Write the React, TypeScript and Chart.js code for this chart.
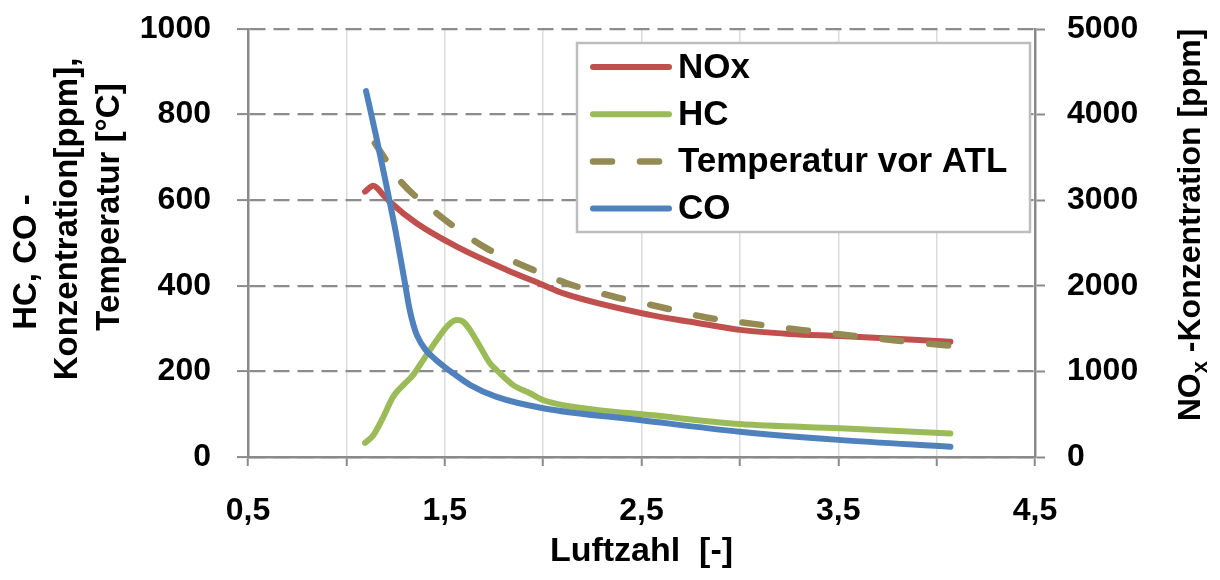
import { useEffect, useRef } from 'react';
import { Chart, registerables } from 'chart.js';

Chart.register(...registerables);

const FONT = "'Liberation Sans', Arial, Helvetica, sans-serif";

// x tick labels (every second tick of 0.5 steps)
const xTickValues = [0.5, 1.5, 2.5, 3.5, 4.5];
const xTickLabels = ['0,5', '1,5', '2,5', '3,5', '4,5'];

// NOx [ppm] (right axis)
const noxX = [1.095, 1.137, 1.188, 1.222, 1.357, 1.561, 1.815, 2.0, 2.103, 2.543, 2.75, 3.0, 3.255, 3.51, 4.07];
const noxY = [3100, 3170, 3060, 2980, 2730, 2457, 2185, 2010, 1912, 1660, 1580, 1485, 1437, 1413, 1347];

// HC [ppm] (left axis)
const hcX = [1.095, 1.137, 1.188, 1.238, 1.289, 1.34, 1.391, 1.459, 1.518, 1.561, 1.594, 1.628, 1.679, 1.73, 1.764, 1.848, 1.933, 2.0, 2.103, 2.272, 2.543, 3.0, 3.51, 4.07];
const hcY = [33, 51, 94, 141, 168, 192, 227, 273, 308, 320, 316, 297, 258, 219, 203, 168, 149, 133, 121, 110, 98, 77, 67, 55];

// Temperatur vor ATL [°C] (left axis)
const tempX = [1.145, 1.19, 1.27, 1.46, 1.7, 1.9, 2.12, 2.357, 2.59, 2.83, 3.07, 3.31, 3.54, 3.78, 4.07];
const tempY = [733, 702, 647, 569, 491, 447, 406, 375, 351, 326, 311, 297, 285, 273, 260];

// CO [ppm] (left axis)
const coX = [1.1, 1.15, 1.2, 1.25, 1.28, 1.3, 1.32, 1.34, 1.36, 1.4, 1.45, 1.5, 1.56, 1.63, 1.76, 2.0, 2.5, 3.0, 3.5, 4.07];
const coY = [855, 752, 642, 528, 452, 400, 348, 310, 283, 252, 229, 210, 190, 168, 141, 114, 86, 59, 40, 24];

const seriesLabels = ['NOx', 'HC', 'Temperatur vor ATL', 'CO'];
const leftTitleLines = ['HC, CO -', 'Konzentration[ppm],', 'Temperatur [°C]'];
const rightTitleParts = ['NO', 'x', ' -Konzentration [ppm]'];
const xTitle = 'Luftzahl  [-]';

const pts = (xs: number[], ys: number[]) => xs.map((x, i) => ({ x, y: ys[i] }));

const tickFont = { family: FONT, size: 32, weight: 'bold' as const };

const legendPlugin = {
  id: 'boxLegend',
  afterDatasetsDraw(chart: any) {
    const { ctx, chartArea: ca } = chart;
    const bx = ca.left + 329;
    const by = ca.top + 14;
    const bw = 453;
    const bh = 189;
    ctx.save();
    ctx.fillStyle = '#ffffff';
    ctx.fillRect(bx, by, bw, bh);
    ctx.strokeStyle = '#bdbdbd';
    ctx.lineWidth = 2.5;
    ctx.strokeRect(bx, by, bw, bh);
    [0, 1, 2, 3].forEach((di, i) => {
      const ds = chart.data.datasets[di];
      const y = by + 24 + i * 47.2;
      ctx.strokeStyle = ds.borderColor;
      ctx.lineWidth = ds.borderWidth;
      ctx.lineCap = 'round';
      ctx.setLineDash(ds.borderDash || []);
      ctx.beginPath();
      ctx.moveTo(bx + 16, y);
      ctx.lineTo(bx + 92, y);
      ctx.stroke();
      ctx.setLineDash([]);
      ctx.fillStyle = '#000';
      ctx.font = `bold 35px ${FONT}`;
      ctx.textBaseline = 'middle';
      ctx.textAlign = 'left';
      ctx.fillText(ds.label, bx + 101, y + 1);
    });
    ctx.restore();
  },
};

const titlesPlugin = {
  id: 'axisTitles',
  afterDraw(chart: any) {
    const { ctx, chartArea: ca, width } = chart;
    ctx.save();
    ctx.fillStyle = '#000';
    ctx.textBaseline = 'middle';
    // left multi-line title
    ctx.font = `bold 33px ${FONT}`;
    ctx.textAlign = 'center';
    const leftPos = [
      [27, ca.top + 233],
      [68, ca.top + 190],
      [110, ca.top + 178],
    ];
    leftTitleLines.forEach((line, i) => {
      ctx.save();
      ctx.translate(leftPos[i][0], leftPos[i][1]);
      ctx.rotate(-Math.PI / 2);
      ctx.fillText(line, 0, 0);
      ctx.restore();
    });
    // right title with subscript
    ctx.save();
    ctx.translate(width - 29, ca.top + 196);
    ctx.rotate(-Math.PI / 2);
    ctx.textAlign = 'left';
    const mainFont = `bold 32px ${FONT}`;
    const subFont = `bold 22px ${FONT}`;
    ctx.font = mainFont;
    const w0 = ctx.measureText(rightTitleParts[0]).width;
    const w2 = ctx.measureText(rightTitleParts[2]).width;
    ctx.font = subFont;
    const w1 = ctx.measureText(rightTitleParts[1]).width;
    let x = -(w0 + w1 + w2) / 2;
    ctx.font = mainFont;
    ctx.fillText(rightTitleParts[0], x, 0);
    x += w0;
    ctx.font = subFont;
    ctx.fillText(rightTitleParts[1], x, 10);
    x += w1;
    ctx.font = mainFont;
    ctx.fillText(rightTitleParts[2], x, 0);
    ctx.restore();
    ctx.restore();
  },
};

export default function App() {
  const ref = useRef<HTMLCanvasElement>(null);
  useEffect(() => {
    const canvas = ref.current!;
    const chart = new Chart(canvas, {
      type: 'line',
      data: {
        datasets: [
          {
            label: seriesLabels[0],
            data: pts(noxX, noxY),
            yAxisID: 'y1',
            borderColor: '#C0504D',
            borderWidth: 6,
            order: 3,
          },
          {
            label: seriesLabels[1],
            data: pts(hcX, hcY),
            yAxisID: 'y',
            borderColor: '#9BBB59',
            borderWidth: 6,
            order: 2,
          },
          {
            label: seriesLabels[2],
            data: pts(tempX, tempY),
            yAxisID: 'y',
            borderColor: '#948A54',
            borderWidth: 6.5,
            borderDash: [19, 28],
            order: 1,
          },
          {
            label: seriesLabels[3],
            data: pts(coX, coY),
            yAxisID: 'y',
            borderColor: '#4F81BD',
            borderWidth: 6,
            order: 0,
          },
        ] as any,
      },
      options: {
        responsive: false,
        animation: false,
        layout: { padding: { top: 29, left: 0, right: 0, bottom: 0 } },
        elements: {
          point: { radius: 0, hoverRadius: 0 },
          line: { cubicInterpolationMode: 'monotone', borderCapStyle: 'round', borderJoinStyle: 'round', fill: false },
        },
        plugins: { legend: { display: false }, tooltip: { enabled: false } },
        scales: {
          x: {
            type: 'linear',
            position: 'bottom',
            min: 0.5,
            max: 4.5,
            ticks: {
              stepSize: 0.5,
              autoSkip: false,
              maxRotation: 0,
              minRotation: 0,
              padding: 26,
              color: '#000',
              font: tickFont,
              callback: (v: any) => {
                const i = xTickValues.findIndex((t) => Math.abs(t - Number(v)) < 1e-6);
                return i >= 0 ? xTickLabels[i] : '';
              },
            },
            grid: {
              color: (c: any) => {
                const v = c.tick ? c.tick.value : 0;
                return Math.abs(v - 0.5) < 1e-6 || Math.abs(v - 4.5) < 1e-6 ? 'rgba(0,0,0,0)' : '#dcdcdc';
              },
              lineWidth: 1.5,
              tickColor: '#8a8a8a',
              tickWidth: 2,
              tickLength: 9,
            },
            border: { color: '#8a8a8a', width: 2.5 },
            title: {
              display: true,
              text: xTitle,
              color: '#000',
              font: { family: FONT, size: 34, weight: 'bold' },
              padding: { top: 0, bottom: 8 },
            },
            afterFit: (s: any) => {
              s.height = 123;
              s.paddingLeft = 0;
              s.paddingRight = 0;
            },
          },
          y: {
            type: 'linear',
            position: 'left',
            min: 0,
            max: 1000,
            ticks: {
              stepSize: 200,
              padding: 26,
              color: '#000',
              font: tickFont,
              callback: (v: any) => String(v),
            },
            grid: {
              color: '#8c8c8c',
              lineWidth: 2.2,
              tickColor: '#8a8a8a',
              tickWidth: 2,
              tickLength: 11,
            },
            border: { color: '#8a8a8a', width: 2.5, dash: [16, 8] },
            afterFit: (s: any) => {
              s.width = 248;
              s.paddingTop = 0;
              s.paddingBottom = 0;
            },
          },
          y1: {
            type: 'linear',
            position: 'right',
            min: 0,
            max: 5000,
            ticks: {
              stepSize: 1000,
              padding: 22,
              color: '#000',
              font: tickFont,
              callback: (v: any) => String(v),
            },
            grid: {
              drawOnChartArea: false,
              color: '#8a8a8a',
              tickColor: '#8a8a8a',
              tickWidth: 2,
              tickLength: 10,
            },
            border: { color: '#8a8a8a', width: 2.5 },
            afterFit: (s: any) => {
              s.width = 185;
              s.paddingTop = 0;
              s.paddingBottom = 0;
            },
          },
        },
      } as any,
      plugins: [legendPlugin, titlesPlugin],
    });
    return () => chart.destroy();
  }, []);
  return (
    <div style={{ position: 'absolute', left: 0, top: 0, width: 1220, height: 580, background: '#fff' }}>
      <canvas ref={ref} width={1220} height={580} style={{ display: 'block', width: 1220, height: 580 }} />
    </div>
  );
}
